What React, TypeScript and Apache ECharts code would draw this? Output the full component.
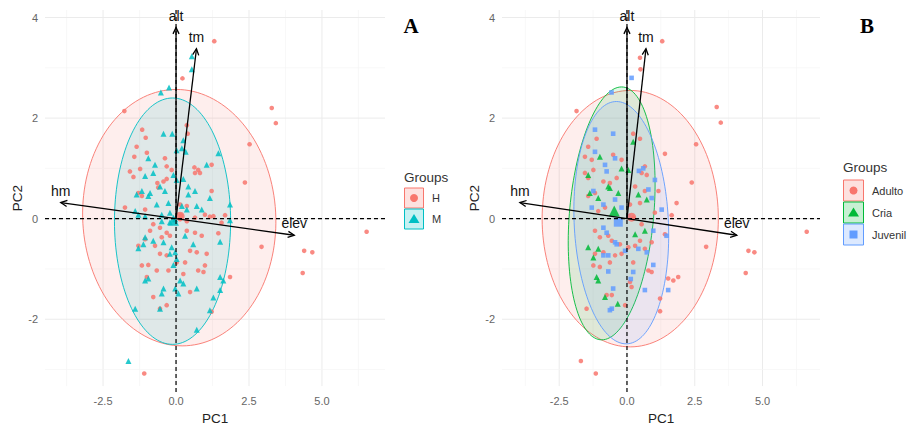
import React, { useEffect, useRef } from "react";
import * as echarts from "echarts";

// ---------- data ----------
const xLabelTicks = [-2.5, 0, 2.5, 5];
const yLabelTicks = [-2, 0, 2, 4];
const xMinorTicks = [-3.75, -1.25, 1.25, 3.75, 6.25];
const yMinorTicks = [-3, -1, 1, 3];

const loadingNames = ["alt", "tm", "hm", "elev"];
const loadingX = [0.0, 0.7, -3.95, 4.05];
const loadingY = [3.8, 3.38, 0.32, -0.33];

// Panel A : groups H / M
const groupsA = ["H", "M"];
const pointsH = [
  [1.31, 3.53], [0.22, 2.79], [-1.77, 2.14], [2.52, 1.48], [-1.16, 1.77], [-1.04, 1.61], [-1.35, 1.43],
  [-1.0, 1.31], [-1.43, 1.23], [0.37, 1.86], [0.4, 1.69], [-0.38, 1.2], [-1.58, 0.94], [-1.46, 0.83],
  [-1.23, 0.99], [-0.32, 1.04], [-0.15, 0.97], [0.63, 1.02], [0.76, 0.97], [0.65, 0.91], [0.82, 0.91],
  [1.22, 1.07], [2.36, 0.72], [-0.64, 0.71], [-0.43, 0.74], [-0.32, 0.79], [-0.61, 0.62], [-1.29, 0.51],
  [-1.17, 0.45], [1.22, 0.55], [-1.75, 0.22], [0.14, 0.28], [0.37, 0.25], [0.99, 0.08], [1.28, 0.05],
  [1.68, 0.07], [-1.06, 0.18], [0.17, 0.07], [0.14, -0.01], [0.37, -0.05], [0.65, 0.02], [1.16, 0.04],
  [1.56, -0.08], [-0.78, -0.11], [-0.55, -0.18], [-0.89, -0.24], [-0.32, -0.28], [-0.21, -0.34],
  [-0.49, -0.37], [-1.06, -0.41], [-1.29, -0.54], [0.37, -0.24], [0.65, -0.28], [0.88, -0.34],
  [1.45, -0.29], [-0.72, -0.54], [-0.55, -0.7], [-0.32, -0.73], [0.48, -0.64], [0.71, -0.67],
  [1.05, -0.7], [-1.17, -0.93], [-0.95, -0.92], [-0.66, -1.03], [-0.26, -1.03], [0.02, -0.87],
  [0.31, -0.87], [0.76, -1.03], [0.94, -1.06], [0.99, -0.93], [-1.0, -1.16], [0.25, -1.1], [1.85, -1.16],
  [0.48, -1.46], [-0.78, -1.56], [-0.32, -1.72], [-0.55, -1.79], [1.22, -1.85], [-1.09, -3.08],
  [3.28, 2.2], [3.42, 1.9], [6.53, -0.26], [2.93, -0.56], [4.39, -0.64], [4.67, -0.67], [4.34, -1.08],
];
const pointsM = [
  [0.54, 3.23], [0.54, 2.97], [-0.24, 2.61], [-0.52, 2.51], [-0.43, 1.69], [-0.13, 1.69], [0.25, 1.56],
  [0.02, 1.36], [0.2, 1.4], [0.33, 1.33], [1.45, 1.3], [-0.95, 1.2], [-0.72, 1.07], [1.05, 1.07],
  [-1.06, 0.85], [-0.78, 0.91], [-0.09, 0.87], [0.02, 0.77], [0.25, 0.79], [0.42, 0.64], [0.65, 0.55],
  [0.42, 0.48], [-0.55, 0.64], [-0.38, 0.55], [-1.17, 0.55], [-0.89, 0.51], [-1.35, 0.48], [-0.95, 0.45],
  [1.16, 0.41], [1.85, 0.28], [-0.66, 0.28], [-0.26, 0.31], [0.2, 0.25], [0.37, 0.18], [0.71, 0.25],
  [0.88, 0.18], [-1.4, 0.15], [-1.29, 0.08], [-1.06, 0.05], [-0.49, 0.08], [-0.21, 0.12],
  [-0.49, -0.05], [-0.21, -0.07], [-0.03, -0.01], [-1.06, -0.37], [-0.78, -0.44], [-0.43, -0.47],
  [-1.12, -0.51], [-1.29, -0.59], [-0.15, -0.57], [-0.03, -0.67], [-0.21, -0.7], [0.02, -0.8],
  [-0.09, -0.92], [0.59, -0.51], [0.31, -0.34], [1.51, -0.46], [-1.06, -1.23], [-0.95, -1.19],
  [0.14, -1.23], [0.25, -1.29], [-0.03, -1.39], [1.51, -1.16], [1.62, -1.23], [-0.43, -1.39],
  [-0.49, -1.49], [0.71, -1.39], [0.08, -1.49], [1.51, -1.42], [1.28, -1.57], [-1.4, -1.79],
  [-0.55, -1.79], [1.16, -1.82], [0.71, -2.21], [-1.63, -2.83], [1.85, -0.03],
];
const meanH = [[0.14, 0.05]];
const meanM = [[-0.09, -0.03]];
// ellipse params: [cx, cy, p (x shift at top), q (x half-width part), ry]
const ellipseH = [0.11, 0.02, -0.1, 3.31, 2.55];
const ellipseM = [-0.12, -0.05, 0.0, 1.99, 2.45];

// Panel B : groups Adulto / Cria / Juvenil
const groupsB = ["Adulto", "Cria", "Juvenil"];
const pointsAdulto = [
  [1.3, 3.53], [0.48, 3.2], [-1.86, 2.14], [2.39, 0.72], [1.4, 1.29], [-1.43, 1.43], [-1.55, 1.23],
  [-1.12, 1.59], [-1.3, 1.17], [0.23, 1.69], [0.48, 1.59], [-0.51, 1.27], [-0.2, 1.17], [-1.55, 0.91],
  [-1.43, 0.81], [-1.24, 0.97], [0.66, 1.04], [0.54, 0.91], [0.73, 0.87], [-0.38, 0.81], [-0.63, 0.71],
  [-0.87, 0.74], [0.3, 0.64], [0.66, 0.55], [1.16, 0.55], [-1.43, 0.45], [-1.18, 0.51], [0.11, 0.28],
  [0.48, 0.31], [1.83, 0.31], [1.65, 0.07], [1.03, 0.12], [-1.06, 0.15], [-0.81, 0.22],
  [0.23, 0.02], [0.54, -0.11], [-1.18, -0.24], [-1.0, -0.37], [-0.69, -0.34], [-0.56, -0.44],
  [-0.26, -0.51], [0.05, -0.57], [0.3, -0.54], [0.48, -0.44], [-1.18, -0.7], [-0.87, -0.67],
  [-0.44, -0.73], [-0.2, -0.7], [0.66, -0.6], [0.91, -0.47], [1.4, -0.31], [-1.24, -0.93],
  [-1.0, -0.96], [-0.63, -0.87], [0.23, -0.87], [0.79, -1.03], [0.91, -1.06], [1.52, -1.19],
  [1.71, -1.23], [1.89, -1.16], [0.11, -1.26], [0.17, -1.36], [-0.75, -1.52], [-0.56, -1.52],
  [1.22, -1.59], [-1.49, -1.79], [-0.07, -1.72], [1.22, -1.84], [-1.7, -2.83], [-1.15, -3.08],
  [3.31, 2.22], [3.46, 1.91], [2.55, 1.48], [6.63, -0.26], [2.92, -0.56], [4.48, -0.64], [4.7, -0.67],
  [4.38, -1.08], [0.5, 2.97],
];
const pointsCria = [
  [0.23, 1.53], [-1.0, 1.23], [-0.2, 1.0], [0.05, 0.97], [-1.43, 0.87], [-0.69, 0.64], [-1.37, 0.51],
  [-0.32, 0.51], [-1.06, 0.41], [0.42, 0.48], [0.73, 0.38], [-1.43, -0.57], [-1.24, -0.77],
  [-1.06, -0.6], [-1.12, -1.16], [-1.06, -1.23], [-0.81, -1.56], [-0.34, -1.69], [0.3, -0.31],
  [0.66, -0.24], [-0.63, 0.61],
];
const pointsJuvenil = [
  [0.17, 2.8], [-0.57, 2.51], [-1.18, 1.77], [-0.51, 1.69], [-1.18, 1.33], [-0.44, 1.2], [-0.81, 1.07],
  [-0.75, 0.94], [0.6, 1.0], [0.44, 0.95], [1.03, 0.77], [-1.24, 0.55], [-0.44, 0.38], [-0.87, 0.28],
  [0.79, 0.58], [0.91, 0.41], [-1.3, 0.22], [-0.2, 0.22], [1.28, 0.18], [0.05, 0.05],
  [-0.87, -0.18], [-0.75, -0.28], [-0.44, -0.47], [-0.87, -0.73], [-0.69, -0.73], [-0.38, -0.51],
  [-0.07, -0.64], [0.42, -0.6], [0.73, -0.67], [0.97, -0.24], [1.46, -0.34], [0.97, -0.92],
  [-0.69, -1.05], [0.23, -1.06], [0.66, -1.42], [1.52, -1.42], [-0.51, -1.39], [0.14, -1.2],
  [-0.56, -1.79], [-0.63, -1.82],
];
const meanAdulto = [[0.17, 0.03]];
const meanCria = [[-0.47, 0.15]];
const meanJuvenil = [[-0.32, -0.07]];
const ellipseAdulto = [0.12, 0.0, 0.0, 3.25, 2.55];
const ellipseCria = [-0.565, 0.105, 0.365, 1.56, 2.515];
const ellipseJuvenil = [-0.21, -0.08, -0.18, 1.74, 2.41];

// ---------- styling ----------
const RED = "#F8766D";
const TEAL = "#00BFC4";
const GREEN = "#00BA38";
const BLUE = "#619CFF";
const FONT = '"Liberation Sans", Arial, sans-serif';

function hexA(hex: string, a: number) {
  const n = parseInt(hex.slice(1), 16);
  return `rgba(${(n >> 16) & 255},${(n >> 8) & 255},${n & 255},${a})`;
}

function gridLineSeries(idx: number) {
  const data: number[][] = [];
  xLabelTicks.forEach((v) => data.push([v, 0, 1, 1]));
  xMinorTicks.forEach((v) => data.push([v, 0, 1, 0]));
  yLabelTicks.forEach((v) => data.push([0, v, 0, 1]));
  yMinorTicks.forEach((v) => data.push([0, v, 0, 0]));
  return {
    type: "custom",
    xAxisIndex: idx,
    yAxisIndex: idx,
    z: 0,
    silent: true,
    data,
    renderItem: (params: any, api: any) => {
      const cs = params.coordSys;
      const vert = api.value(2) === 1;
      const major = api.value(3) === 1;
      const style = { stroke: major ? "#EBEBEB" : "#F5F5F5", lineWidth: major ? 1 : 0.7 };
      if (vert) {
        const px = api.coord([api.value(0), 0])[0];
        return { type: "line", shape: { x1: px, y1: cs.y, x2: px, y2: cs.y + cs.height }, style };
      }
      const py = api.coord([0, api.value(1)])[1];
      return { type: "line", shape: { x1: cs.x, y1: py, x2: cs.x + cs.width, y2: py }, style };
    },
  };
}

function refLineSeries(idx: number) {
  return {
    type: "custom",
    xAxisIndex: idx,
    yAxisIndex: idx,
    z: 3,
    silent: true,
    data: [[0, 0, 1], [0, 0, 0]],
    renderItem: (params: any, api: any) => {
      const cs = params.coordSys;
      const o = api.coord([0, 0]);
      const style = { stroke: "#000", lineWidth: 1.2, lineDash: [4, 3] };
      if (api.value(2) === 1) {
        return { type: "line", shape: { x1: o[0], y1: cs.y, x2: o[0], y2: cs.y + cs.height + 6 }, style };
      }
      return { type: "line", shape: { x1: cs.x, y1: o[1], x2: cs.x + cs.width, y2: o[1] }, style };
    },
  };
}

function ellipseSeries(idx: number, params: number[], color: string) {
  return {
    type: "custom",
    xAxisIndex: idx,
    yAxisIndex: idx,
    z: 1,
    silent: true,
    data: [params],
    renderItem: (_p: any, api: any) => {
      const cx = api.value(0), cy = api.value(1), p = api.value(2), q = api.value(3), ry = api.value(4);
      const pts: number[][] = [];
      const N = 144;
      for (let i = 0; i < N; i++) {
        const t = (i / N) * Math.PI * 2;
        pts.push(api.coord([cx + p * Math.cos(t) + q * Math.sin(t), cy + ry * Math.cos(t)]));
      }
      return {
        type: "polygon",
        shape: { points: pts },
        style: { fill: hexA(color, 0.12), stroke: hexA(color, 0.9), lineWidth: 1 },
      };
    },
  };
}

function scatterSeries(idx: number, name: string, data: number[][], color: string, symbol: string, size: number) {
  return {
    type: "scatter",
    name,
    xAxisIndex: idx,
    yAxisIndex: idx,
    z: 2,
    symbol,
    symbolSize: size,
    data,
    itemStyle: { color, opacity: 0.85 },
    silent: true,
  };
}

function arrowSeries(idx: number) {
  return {
    type: "custom",
    xAxisIndex: idx,
    yAxisIndex: idx,
    z: 5,
    silent: true,
    data: loadingX.map((x, i) => [x, loadingY[i]]),
    renderItem: (params: any, api: any) => {
      const o = api.coord([0, 0]);
      const e = api.coord([api.value(0), api.value(1)]);
      const a = Math.atan2(e[1] - o[1], e[0] - o[0]);
      const L = 7, w = 0.45;
      const h1 = [e[0] - L * Math.cos(a - w), e[1] - L * Math.sin(a - w)];
      const h2 = [e[0] - L * Math.cos(a + w), e[1] - L * Math.sin(a + w)];
      return {
        type: "group",
        children: [
          { type: "line", shape: { x1: o[0], y1: o[1], x2: e[0], y2: e[1] }, style: { stroke: "#000", lineWidth: 1.3 } },
          { type: "polyline", shape: { points: [h1, e, h2] }, style: { stroke: "#000", lineWidth: 1.3, fill: null } },
          {
            type: "text",
            x: e[0],
            y: e[1] - 12,
            style: {
              text: loadingNames[params.dataIndex],
              fill: "#111",
              font: `14px ${FONT}`,
              align: "center",
              verticalAlign: "middle",
            },
          },
        ],
      };
    },
  };
}

function legendGraphic(x: number, yTitle: number, yFirst: number, boxW: number, boxH: number, labels: string[], colors: string[], shapes: string[]) {
  const els: any[] = [
    { type: "text", x, y: yTitle, style: { text: "Groups", font: `13.5px ${FONT}`, fill: "#333", verticalAlign: "middle" } },
  ];
  labels.forEach((lab, i) => {
    const by = yFirst + i * (boxH + 1);
    const cx = x + boxW / 2 + 0.5, cy = by + boxH / 2;
    els.push({ type: "rect", shape: { x: x + 0.5, y: by, width: boxW, height: boxH }, style: { fill: hexA(colors[i], 0.22), stroke: colors[i], lineWidth: 1 } });
    if (shapes[i] === "circle") {
      els.push({ type: "circle", shape: { cx, cy, r: 4 }, style: { fill: colors[i] } });
    } else if (shapes[i] === "triangle") {
      els.push({ type: "polygon", shape: { points: [[cx, cy - 5], [cx + 5.5, cy + 4], [cx - 5.5, cy + 4]] }, style: { fill: colors[i] } });
    } else {
      els.push({ type: "rect", shape: { x: cx - 4, y: cy - 4, width: 8, height: 8 }, style: { fill: colors[i] } });
    }
    els.push({ type: "text", x: x + boxW + 9, y: cy, style: { text: lab, font: `11px ${FONT}`, fill: "#333", verticalAlign: "middle" } });
  });
  return els;
}

function makeXAxis(idx: number, min: number, max: number) {
  return {
    type: "value",
    gridIndex: idx,
    min,
    max,
    name: "PC1",
    nameLocation: "middle",
    nameGap: 24,
    nameTextStyle: { fontFamily: FONT, fontSize: 13.5, color: "#222" },
    axisLine: { show: false },
    axisTick: { show: false },
    splitLine: { show: false },
    axisLabel: {
      customValues: xLabelTicks,
      formatter: (v: number) => v.toFixed(1),
      fontFamily: FONT,
      fontSize: 11,
      color: "#666",
      margin: 9,
    },
  };
}

function makeYAxis(idx: number) {
  return {
    type: "value",
    gridIndex: idx,
    min: -3.33,
    max: 4.15,
    name: "PC2",
    nameLocation: "middle",
    nameGap: 20,
    nameTextStyle: { fontFamily: FONT, fontSize: 13.5, color: "#222" },
    axisLine: { show: false },
    axisTick: { show: false },
    splitLine: { show: false },
    axisLabel: {
      customValues: yLabelTicks,
      formatter: (v: number) => String(v),
      fontFamily: FONT,
      fontSize: 11,
      color: "#666",
      margin: 7,
    },
  };
}

export default function App() {
  const ref = useRef<HTMLDivElement>(null);
  useEffect(() => {
    if (!ref.current) return;
    const chart = echarts.init(ref.current, null, { renderer: "svg" });
    chart.setOption({
      animation: false,
      backgroundColor: "#fff",
      grid: [
        { left: 45, top: 10, width: 340, height: 380 },
        { left: 502, top: 10, width: 318, height: 380 },
      ],
      xAxis: [makeXAxis(0, -4.49, 7.16), makeXAxis(1, -4.61, 7.12)],
      yAxis: [makeYAxis(0), makeYAxis(1)],
      series: [
        gridLineSeries(0),
        gridLineSeries(1),
        ellipseSeries(0, ellipseH, RED),
        ellipseSeries(0, ellipseM, TEAL),
        ellipseSeries(1, ellipseAdulto, RED),
        ellipseSeries(1, ellipseCria, GREEN),
        ellipseSeries(1, ellipseJuvenil, BLUE),
        scatterSeries(0, groupsA[0], pointsH, RED, "circle", 4.6),
        scatterSeries(0, groupsA[1], pointsM, TEAL, "triangle", 6),
        scatterSeries(0, groupsA[0] + " mean", meanH, RED, "circle", 9),
        scatterSeries(0, groupsA[1] + " mean", meanM, TEAL, "triangle", 11),
        scatterSeries(1, groupsB[0], pointsAdulto, RED, "circle", 4.6),
        scatterSeries(1, groupsB[1], pointsCria, GREEN, "triangle", 6),
        scatterSeries(1, groupsB[2], pointsJuvenil, BLUE, "rect", 4.6),
        scatterSeries(1, groupsB[0] + " mean", meanAdulto, RED, "circle", 9),
        scatterSeries(1, groupsB[1] + " mean", meanCria, GREEN, "triangle", 11),
        scatterSeries(1, groupsB[2] + " mean", meanJuvenil, BLUE, "rect", 9),
        refLineSeries(0),
        refLineSeries(1),
        arrowSeries(0),
        arrowSeries(1),
      ],
      graphic: [
        { type: "text", x: 411, y: 26, style: { text: "A", font: `bold 21px "Liberation Serif", serif`, fill: "#000", align: "center", verticalAlign: "middle" } },
        { type: "text", x: 867, y: 26, style: { text: "B", font: `bold 21px "Liberation Serif", serif`, fill: "#000", align: "center", verticalAlign: "middle" } },
        ...legendGraphic(404, 177, 188, 19, 20, groupsA, [RED, TEAL], ["circle", "triangle"]),
        ...legendGraphic(843, 167, 180, 20, 21, groupsB, [RED, GREEN, BLUE], ["circle", "triangle", "rect"]),
      ],
    });
    return () => chart.dispose();
  }, []);
  return <div ref={ref} style={{ position: "fixed", left: 0, top: 0, width: 907, height: 430, background: "#fff" }} />;
}
